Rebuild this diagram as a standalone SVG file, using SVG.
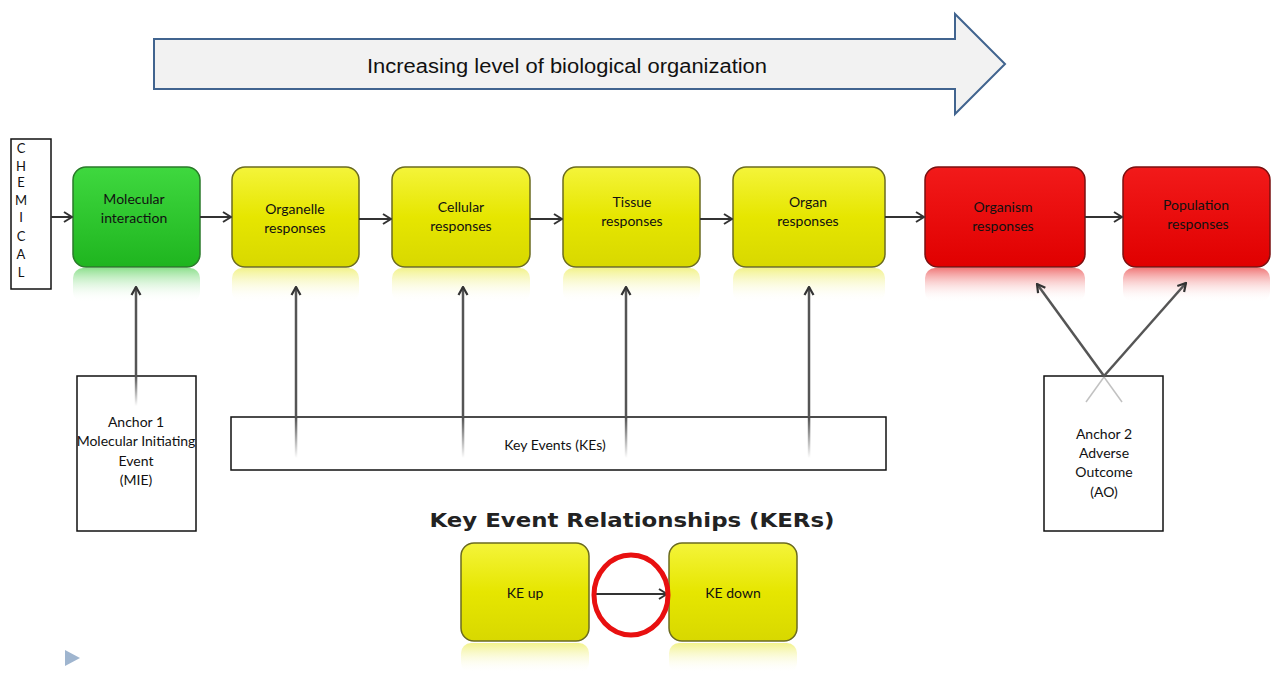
<svg xmlns="http://www.w3.org/2000/svg" width="1272" height="673" viewBox="0 0 1272 673">
<style>
.lbl{font-family:Lato,"Liberation Sans",sans-serif;font-size:14px;fill:#111;text-anchor:middle}
.box{fill:#fff;stroke:#111;stroke-width:1.5}
.conn{stroke:#333;stroke-width:2;fill:none}
.vconn{stroke:#555;stroke-width:2.5;fill:none}
</style>
<defs>
<marker id="ah" markerWidth="10" markerHeight="12" refX="9" refY="6" orient="auto" markerUnits="userSpaceOnUse">
<path d="M1,1 L9,6 L1,11" fill="none" stroke="#333" stroke-width="2"/>
</marker>
<marker id="ahv" markerWidth="10" markerHeight="12" refX="9" refY="6" orient="auto" markerUnits="userSpaceOnUse">
<path d="M1,1.5 L9,6 L1,10.5" fill="none" stroke="#333" stroke-width="2.2"/>
</marker>
<linearGradient id="gG" x1="0" y1="0" x2="0" y2="1">
<stop offset="0" stop-color="#3fd83f"/><stop offset="1" stop-color="#1fb51f"/>
</linearGradient>
<linearGradient id="gY" x1="0" y1="0" x2="0" y2="1">
<stop offset="0" stop-color="#f4f43a"/><stop offset="0.5" stop-color="#e6e600"/><stop offset="1" stop-color="#d8d800"/>
</linearGradient>
<linearGradient id="gR" x1="0" y1="0" x2="0" y2="1">
<stop offset="0" stop-color="#f21a1a"/><stop offset="1" stop-color="#e00000"/>
</linearGradient>
<linearGradient id="rG" x1="0" y1="0" x2="0" y2="1">
<stop offset="0" stop-color="#8fe08f"/><stop offset="1" stop-color="#fff" stop-opacity="0"/>
</linearGradient>
<linearGradient id="rY" x1="0" y1="0" x2="0" y2="1">
<stop offset="0" stop-color="#f2f28a"/><stop offset="1" stop-color="#fff" stop-opacity="0"/>
</linearGradient>
<linearGradient id="rR" x1="0" y1="0" x2="0" y2="1">
<stop offset="0" stop-color="#f07a7a"/><stop offset="1" stop-color="#fff" stop-opacity="0"/>
</linearGradient>
<linearGradient id="fadeDown" x1="0" y1="0" x2="0" y2="1">
<stop offset="0" stop-color="#555"/><stop offset="1" stop-color="#555" stop-opacity="0"/>
</linearGradient>
</defs>
<rect width="1272" height="673" fill="#fff"/>

<g id="org-arrow">
<path d="M154,39 L955,39 L955,14 L1005,64 L955,114 L955,89 L154,89 Z" fill="#f2f2f2" stroke="#41648f" stroke-width="2"/>
<text x="567" y="73" font-family="'Liberation Sans',sans-serif" font-size="20" fill="#111" text-anchor="middle" textLength="400" lengthAdjust="spacingAndGlyphs">Increasing level of biological organization</text>
</g>

<g id="chemical">
<rect x="11" y="139" width="40" height="150" class="box"/>
<g font-family="Lato,'Liberation Sans',sans-serif" font-size="13" fill="#111" text-anchor="middle">
<text x="21" y="153">C</text><text x="21" y="171">H</text><text x="21" y="187">E</text><text x="21" y="205">M</text>
<text x="21" y="222">I</text><text x="21" y="241">C</text><text x="21" y="259">A</text><text x="21" y="277">L</text>
</g>
</g>

<g id="reflections">
<rect x="73" y="268" width="127" height="34" rx="10" fill="url(#rG)"/>
<rect x="232" y="268" width="127" height="34" rx="10" fill="url(#rY)"/>
<rect x="392" y="268" width="138" height="34" rx="10" fill="url(#rY)"/>
<rect x="563" y="268" width="137" height="34" rx="10" fill="url(#rY)"/>
<rect x="733" y="268" width="152" height="34" rx="10" fill="url(#rY)"/>
<rect x="925" y="268" width="160" height="34" rx="10" fill="url(#rR)"/>
<rect x="1123" y="268" width="147" height="34" rx="10" fill="url(#rR)"/>
<rect x="461" y="643" width="128" height="30" rx="10" fill="url(#rY)"/>
<rect x="669" y="643" width="128" height="30" rx="10" fill="url(#rY)"/>
</g>

<g id="n-molecular">
<rect x="73" y="167" width="127" height="100" rx="13" fill="url(#gG)" stroke="#2a7a2a" stroke-width="1.5"/>
<text class="lbl" x="134" y="204">Molecular</text><text class="lbl" x="134" y="223">interaction</text>
</g>
<g id="n-organelle">
<rect x="232" y="167" width="127" height="100" rx="13" fill="url(#gY)" stroke="#6b6b20" stroke-width="1.5"/>
<text class="lbl" x="295" y="214">Organelle</text><text class="lbl" x="295" y="233">responses</text>
</g>
<g id="n-cellular">
<rect x="392" y="167" width="138" height="100" rx="13" fill="url(#gY)" stroke="#6b6b20" stroke-width="1.5"/>
<text class="lbl" x="461" y="212">Cellular</text><text class="lbl" x="461" y="231">responses</text>
</g>
<g id="n-tissue">
<rect x="563" y="167" width="137" height="100" rx="13" fill="url(#gY)" stroke="#6b6b20" stroke-width="1.5"/>
<text class="lbl" x="632" y="207">Tissue</text><text class="lbl" x="632" y="226">responses</text>
</g>
<g id="n-organ">
<rect x="733" y="167" width="152" height="100" rx="13" fill="url(#gY)" stroke="#6b6b20" stroke-width="1.5"/>
<text class="lbl" x="808" y="207">Organ</text><text class="lbl" x="808" y="226">responses</text>
</g>
<g id="n-organism">
<rect x="925" y="167" width="160" height="100" rx="13" fill="url(#gR)" stroke="#7a1010" stroke-width="1.5"/>
<text class="lbl" x="1003" y="212">Organism</text><text class="lbl" x="1003" y="231">responses</text>
</g>
<g id="n-population">
<rect x="1123" y="167" width="147" height="100" rx="13" fill="url(#gR)" stroke="#7a1010" stroke-width="1.5"/>
<text class="lbl" x="1196" y="210">Population</text><text class="lbl" x="1198" y="229">responses</text>
</g>

<g id="anchor1">
<rect x="77" y="376" width="119" height="155" class="box"/>
<text class="lbl" x="136" y="427">Anchor 1</text>
<text class="lbl" x="136" y="446">Molecular Initiating</text>
<text class="lbl" x="136" y="466">Event</text>
<text class="lbl" x="136" y="485">(MIE)</text>
</g>
<g id="kes">
<rect x="231" y="417" width="655" height="53" class="box"/>
<text class="lbl" x="555" y="450">Key Events (KEs)</text>
</g>
<g id="anchor2">
<rect x="1044" y="376" width="119" height="155" class="box"/>
<text class="lbl" x="1104" y="439">Anchor 2</text>
<text class="lbl" x="1104" y="458">Adverse</text>
<text class="lbl" x="1104" y="477">Outcome</text>
<text class="lbl" x="1104" y="497">(AO)</text>
</g>

<g id="connectors">
<line class="conn" x1="51" y1="217" x2="72" y2="217" marker-end="url(#ah)"/>
<line class="conn" x1="200" y1="217" x2="231" y2="217" marker-end="url(#ah)"/>
<line class="conn" x1="359" y1="219" x2="391" y2="219" marker-end="url(#ah)"/>
<line class="conn" x1="530" y1="219" x2="562" y2="219" marker-end="url(#ah)"/>
<line class="conn" x1="700" y1="219" x2="732" y2="219" marker-end="url(#ah)"/>
<line class="conn" x1="885" y1="217" x2="924" y2="217" marker-end="url(#ah)"/>
<line class="conn" x1="1085" y1="217" x2="1122" y2="217" marker-end="url(#ah)"/>
<line class="vconn" x1="136" y1="376" x2="136" y2="287" marker-end="url(#ahv)"/>
<rect x="134.8" y="376" width="2.5" height="30" fill="url(#fadeDown)"/>
<line class="vconn" x1="296" y1="417" x2="296" y2="287" marker-end="url(#ahv)"/>
<line class="vconn" x1="463" y1="417" x2="463" y2="287" marker-end="url(#ahv)"/>
<line class="vconn" x1="626" y1="417" x2="626" y2="287" marker-end="url(#ahv)"/>
<line class="vconn" x1="809" y1="417" x2="809" y2="287" marker-end="url(#ahv)"/>
<rect x="294.8" y="418" width="2.5" height="40" fill="url(#fadeDown)"/>
<rect x="461.8" y="418" width="2.5" height="40" fill="url(#fadeDown)"/>
<rect x="624.8" y="418" width="2.5" height="40" fill="url(#fadeDown)"/>
<rect x="807.8" y="418" width="2.5" height="40" fill="url(#fadeDown)"/>
<line class="vconn" x1="1104" y1="376" x2="1037" y2="284" marker-end="url(#ahv)"/>
<line class="vconn" x1="1104" y1="376" x2="1186" y2="283" marker-end="url(#ahv)"/>
<line x1="1104" y1="377" x2="1086" y2="402" stroke="#999" stroke-width="1.5" opacity="0.6"/>
<line x1="1104" y1="377" x2="1122" y2="402" stroke="#999" stroke-width="1.5" opacity="0.6"/>
<line class="conn" x1="592" y1="594" x2="667" y2="594" marker-end="url(#ah)"/>
</g>

<g id="kers">
<text x="632" y="527" font-family="'DejaVu Sans',sans-serif" font-weight="bold" font-size="20" fill="#222" text-anchor="middle" textLength="405" lengthAdjust="spacingAndGlyphs">Key Event Relationships (KERs)</text>
</g>
<g id="ke-up">
<rect x="461" y="543" width="128" height="98" rx="13" fill="url(#gY)" stroke="#6b6b20" stroke-width="1.5"/>
<text class="lbl" x="525" y="598">KE up</text>
</g>
<g id="ke-down">
<rect x="669" y="543" width="128" height="98" rx="13" fill="url(#gY)" stroke="#6b6b20" stroke-width="1.5"/>
<text class="lbl" x="733" y="598">KE down</text>
</g>
<g id="highlight">
<ellipse cx="631" cy="595" rx="37" ry="40" fill="none" stroke="#e81010" stroke-width="5"/>
</g>
<g id="bullet">
<path d="M65,650 L80,658 L65,666 Z" fill="#9fb5cf"/>
</g>
</svg>
